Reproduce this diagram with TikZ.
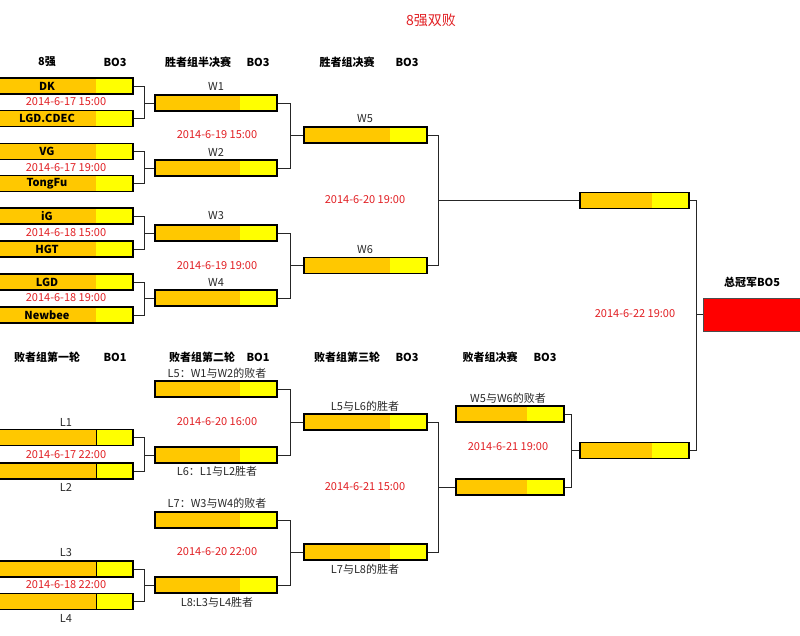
\documentclass[tikz,border=0pt]{standalone}
\usepackage{fontspec}
\setmainfont{Noto Sans CJK SC}
\usetikzlibrary{calc}
\definecolor{orangeY}{RGB}{255,200,0}
\definecolor{yellowY}{RGB}{255,255,0}
\definecolor{redbox}{RGB}{255,0,0}
\definecolor{datered}{RGB}{226,32,36}
\definecolor{lblgray}{RGB}{40,40,40}
\tikzset{
  slotbox/.style={draw=black, line width=1.3pt, fill=orangeY, minimum height=16pt, inner sep=0pt,
    path picture={\fill[yellowY] ($(path picture bounding box.north east)+(-37,0)$) rectangle (path picture bounding box.south east);}},
  seambox/.style={slotbox, path picture={\fill[yellowY] ($(path picture bounding box.north east)+(-37,0)$) rectangle (path picture bounding box.south east);
      \draw[black, line width=0.8pt] ($(path picture bounding box.north east)+(-37,0)$) -- ($(path picture bounding box.south east)+(-37,0)$);}},
  wide8/.style={minimum width=136pt},
  wide2/.style={minimum width=122pt},
  wide3/.style={minimum width=123pt},
  wide4/.style={minimum width=108pt},
  conn/.style={draw=black!85, line width=0.8pt},
  team/.style={font=\bfseries\fontsize{11}{13}\selectfont, inner sep=0pt},
  hdr/.style={font=\bfseries\fontsize{11}{13}\selectfont, inner sep=0pt},
  lbl/.style={font=\fontsize{11}{13}\selectfont, text=lblgray, inner sep=0pt},
  date/.style={font=\fontsize{11}{13}\selectfont, text=datered, inner sep=0pt},
}
\begin{document}
\begin{tikzpicture}[x=1pt,y=-1pt]
\clip (0,0) rectangle (800,635);
\fill[white] (0,0) rectangle (800,635);

% title
\node[font=\fontsize{14}{16}\selectfont, text=datered] (title) at (431,20) {8强双败};

% headers top
\node[hdr] (h1) at (47,62) {8强};
\node[hdr] (h1b) at (115,62) {BO3};
\node[hdr] (h2) at (198,62) {胜者组半决赛};
\node[hdr] (h2b) at (258,62) {BO3};
\node[hdr] (h3) at (347,62) {胜者组决赛};
\node[hdr] (h3b) at (407,62) {BO3};
% headers bottom
\node[hdr] (h4) at (47,357) {败者组第一轮};
\node[hdr] (h4b) at (115,357) {BO1};
\node[hdr] (h5) at (202,357) {败者组第二轮};
\node[hdr] (h5b) at (258,357) {BO1};
\node[hdr] (h6) at (347,357) {败者组第三轮};
\node[hdr] (h6b) at (407,357) {BO3};
\node[hdr] (h7) at (490,357) {败者组决赛};
\node[hdr] (h7b) at (545,357) {BO3};

% round of 8
\node[slotbox,wide8] (dk) at (65,86) {};
\node[slotbox,wide8] (cdec) at (65,118.5) {};
\node[slotbox,wide8] (vg) at (65,151.5) {};
\node[slotbox,wide8] (tf) at (65,183.5) {};
\node[slotbox,wide8] (ig) at (65,216) {};
\node[slotbox,wide8] (hgt) at (65,249) {};
\node[slotbox,wide8] (lgd) at (65,282) {};
\node[slotbox,wide8] (nb) at (65,315) {};
\node[team] (tdk) at (47,86) {DK};
\node[team] (tcdec) at (47,118.5) {LGD.CDEC};
\node[team] (tvg) at (47,151.5) {VG};
\node[team] (ttf) at (47,183.5) {TongFu};
\node[team] (tig) at (47,216) {iG};
\node[team] (thgt) at (47,249) {HGT};
\node[team] (tlgd) at (47,282) {LGD};
\node[team] (tnb) at (47,315) {Newbee};
\node[date] (d1) at (66,102) {2014-6-17 15:00};
\node[date] (d2) at (66,167.5) {2014-6-17 19:00};
\node[date] (d3) at (66,232.5) {2014-6-18 15:00};
\node[date] (d4) at (66,298) {2014-6-18 19:00};

% winners semis
\node[slotbox,wide2] (w1) at (216,103) {};
\node[slotbox,wide2] (w2) at (216,168) {};
\node[slotbox,wide2] (w3) at (216,233) {};
\node[slotbox,wide2] (w4) at (216,298) {};
\node[lbl] (lw1) at (216,86) {W1};
\node[lbl] (lw2) at (216,152) {W2};
\node[lbl] (lw3) at (216,216) {W3};
\node[lbl] (lw4) at (216,282) {W4};
\node[date] (d5) at (217,135) {2014-6-19 15:00};
\node[date] (d6) at (217,266) {2014-6-19 19:00};

% winners final
\node[slotbox,wide3] (w5) at (365.5,135) {};
\node[slotbox,wide3] (w6) at (365.5,265.5) {};
\node[lbl] (lw5) at (365,119) {W5};
\node[lbl] (lw6) at (365,250) {W6};
\node[date] (d7) at (365,200) {2014-6-20 19:00};

% winners champion slot
\node[slotbox,wide4,minimum width=109pt] (wf) at (634.5,200.5) {};

% grand final
\node[draw=black!70, line width=0.8pt, fill=redbox, minimum width=108pt, minimum height=33pt, inner sep=0pt] (gf) at (757,314.5) {};
\node[hdr] (gft) at (752,282) {总冠军BO5};
\node[date] (d8) at (635,314) {2014-6-22 19:00};

% losers round 1
\node[seambox,wide8] (l1) at (65,437.5) {};
\node[seambox,wide8] (l2) at (65,471) {};
\node[seambox,wide8] (l3) at (65,569) {};
\node[seambox,wide8] (l4) at (65,601.5) {};
\node[lbl] (ll1) at (66,422) {L1};
\node[lbl] (ll2) at (66,487) {L2};
\node[lbl] (ll3) at (66,553) {L3};
\node[lbl] (ll4) at (66,618) {L4};
\node[date] (d9) at (66,455) {2014-6-17 22:00};
\node[date] (d10) at (66,585) {2014-6-18 22:00};

% losers round 2
\node[slotbox,wide2] (l5) at (216,389) {};
\node[slotbox,wide2] (l6) at (216,455) {};
\node[slotbox,wide2] (l7) at (216,520) {};
\node[slotbox,wide2] (l8) at (216,585) {};
\node[lbl] (ll5) at (217,373) {L5：W1与W2的败者};
\node[lbl] (ll6) at (217,471) {L6：L1与L2胜者};
\node[lbl] (ll7) at (217,503) {L7：W3与W4的败者};
\node[lbl] (ll8) at (217,602) {L8:L3与L4胜者};
\node[date] (d11) at (217,422) {2014-6-20 16:00};
\node[date] (d12) at (217,552) {2014-6-20 22:00};

% losers round 3
\node[slotbox,wide3] (l9) at (365.5,422) {};
\node[slotbox,wide3] (l10) at (365.5,552) {};
\node[lbl] (ll9) at (365,406) {L5与L6的胜者};
\node[lbl] (ll10) at (365,569) {L7与L8的胜者};
\node[date] (d13) at (365,487) {2014-6-21 15:00};

% losers final
\node[slotbox,wide4] (lfa) at (510,414) {};
\node[slotbox,wide4] (lfb) at (510,487) {};
\node[lbl] (llfa) at (508,398) {W5与W6的败者};
\node[date] (d14) at (508,447) {2014-6-21 19:00};

% losers champion slot
\node[slotbox,wide4,minimum width=109pt] (lf) at (634.5,450.5) {};

% connectors
\foreach \a/\b in {dk/w1,cdec/w1,vg/w2,tf/w2,ig/w3,hgt/w3,lgd/w4,nb/w4,l1/l6,l2/l6,l3/l8,l4/l8}
  \draw[conn] (\a.east) -- ++(11,0) |- (\b.west);
\foreach \a/\b in {w1/w5,w2/w5,w3/w6,w4/w6,l5/l9,l6/l9,l7/l10,l8/l10}
  \draw[conn] (\a.east) -- ++(13,0) |- (\b.west);
\foreach \a/\b in {w5/wf,w6/wf,l9/lfb,l10/lfb}
  \draw[conn] (\a.east) -- ++(11,0) |- (\b.west);
\foreach \a/\b in {lfa/lf,lfb/lf}
  \draw[conn] (\a.east) -- ++(7,0) |- (\b.west);
\foreach \a/\b in {wf/gf,lf/gf}
  \draw[conn] (\a.east) -- ++(7,0) |- (\b.west);
\end{tikzpicture}
\end{document}
